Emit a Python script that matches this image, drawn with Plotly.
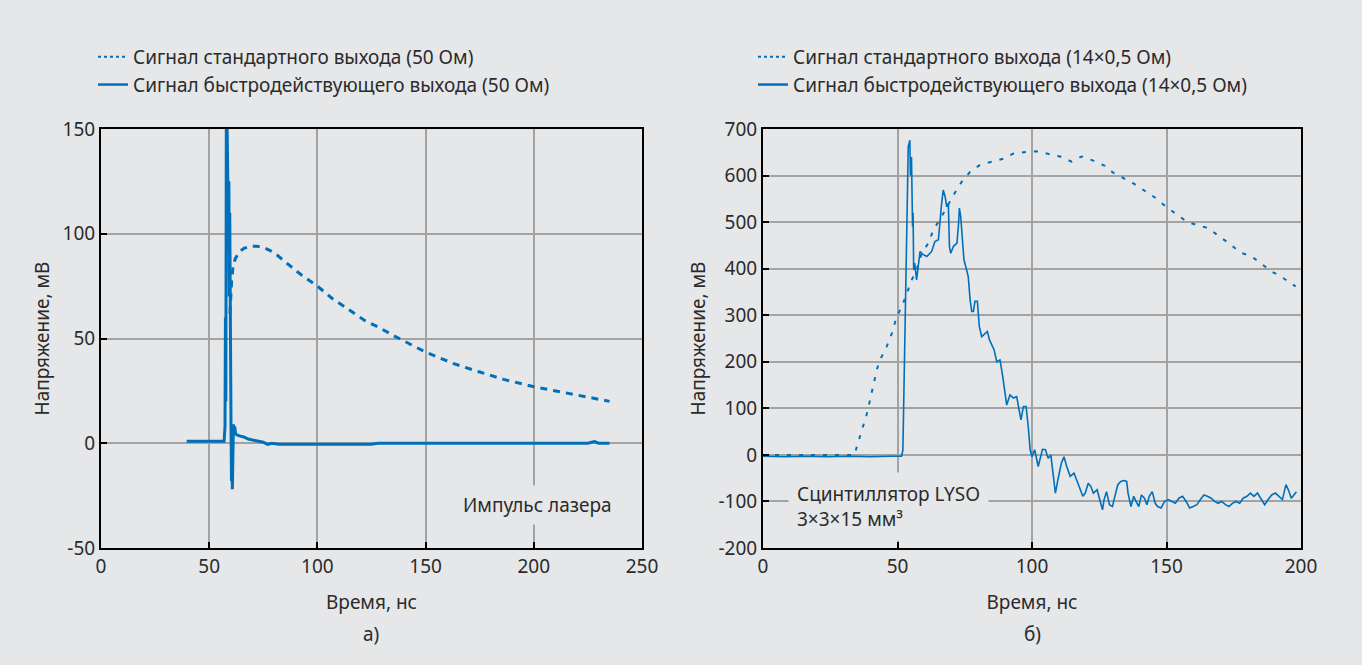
import plotly.graph_objects as go

# ---------------- data: panel a) ----------------
std_a_t = [59.6, 60.0, 60.4, 61, 62, 64, 66, 69, 72, 75, 80, 87, 93, 100, 107, 113.5, 122, 129,
           135, 150, 163, 175, 186, 200, 212, 224, 235]
std_a_v = [62, 72, 78, 84, 88, 91.5, 93, 94, 94, 93.5, 91, 85, 80, 75, 69, 64.5, 58.5, 55,
           51.5, 43.5, 38, 34, 30.5, 27, 24.5, 22, 20]

fast_a_t = [39.6, 45, 50, 56.9, 57.3, 57.5, 57.7, 57.9, 58.1, 58.3, 58.5, 58.7, 58.9, 59.1, 59.3,
            59.5, 59.7, 59.9, 60.1, 60.3, 60.5, 60.7, 60.9, 61.2, 61.5, 61.8, 62.2, 62.8, 64, 66,
            68, 70, 72, 75, 77, 79, 82, 90, 100, 110, 120, 125, 128, 150, 175, 200, 225, 228,
            230, 235]
fast_a_v = [1, 1, 1, 1, 8, 60, 20, 150, 95, 150, 118, 138, 100, 125, 70,
            110, 40, 60, 5, -18, -8, -22, -5, 9, 5, 8, 4.5, 4, 3.5, 3,
            2, 1.5, 1, 0.5, -0.5, 0, -0.5, -0.5, -0.5, -0.5, -0.5, -0.5, 0, 0, 0, 0, 0, 0.8,
            0, 0]

# ---------------- data: panel б) ----------------
std_b_t = [0, 10, 20, 30, 34, 35, 36, 37.3, 38.5, 39.8, 40.8, 42.3, 43.5, 46, 47.9, 49.7, 51.6,
           53.4, 55.3, 57.1, 59, 61.5, 63.3, 66.4, 70.8, 73.9, 77, 80.7, 85.6, 89.3, 93, 98,
           101.7, 106.7, 110.4, 114.7, 118.5, 122.8, 127.1, 130.2, 134, 137.7, 141.4, 145.7,
           149.4, 153.2, 157.5, 161.2, 165.6, 169.9, 173.6, 177.3, 181.7, 185.4, 189.1, 192.8,
           197.2, 198]
std_b_v = [0, 0, 0, 0, 0, 20, 40, 61, 86, 118, 147, 183, 204, 233, 261, 297, 318,
           347, 376, 397, 433, 455, 483, 512, 558, 587, 608, 623, 630, 636, 647, 651,
           652, 646, 641, 630, 641, 632, 621, 606, 594, 583, 569, 553,
           535, 519, 501, 494, 487, 468, 453, 435, 426, 410, 394, 382,
           365, 362]

fast_b_t = [0, 8, 16, 24, 32, 40, 48, 51.5, 52.0, 52.3, 52.8, 53.2, 54.0, 54.6, 54.8, 55.2, 55.6,
            55.8, 56.0, 56.4, 57.1, 57.7, 58.4, 59.6, 60.9, 62.7, 63.9, 65.2, 65.8, 66.4, 67.0,
            67.7, 68.3, 68.9, 69.3, 69.8, 70.8, 72.1, 72.7, 73.0, 73.5, 74.2, 74.7, 75.7, 76.3,
            77.0, 77.6, 78.2, 78.8, 79.7, 80.4, 81.3, 82.6, 83.4, 84.2, 85.0, 85.9, 86.9, 88.1,
            89.1, 90.0, 90.6, 91.8, 93.1, 94.3, 95.3, 95.9, 96.8, 97.8, 98.6, 99.3, 100,
            101, 102.3, 103, 103.9, 105, 106, 107, 107.9, 108.7, 109.6, 110.9, 111.9, 112.9,
            114.2, 115.6, 116.6, 117.5, 118.9, 119.8, 120.9, 121.9, 122.8, 124.2, 125.1, 126.2,
            126.8, 127.7, 128.8, 129.9, 130.8, 131.9, 133, 134.1, 135.2, 135.7, 136.8, 137.8,
            138.7, 139.7, 140.7, 141.8, 142.7, 143.6, 144.7, 145.8, 146.7, 148, 149.3, 150.7,
            152, 153.3, 154.6, 156, 157.3, 158.6, 159.9, 161.3, 162.6, 163.9, 165.2, 166.6,
            167.9, 169.2, 170.5, 171.9, 173.2, 174.5, 175.8, 177.2, 178.5, 179.9, 181.2, 182.5,
            183.8, 185.2, 186.5, 187.8, 189.1, 190.5, 191.7, 193.1, 194.4, 195.3, 196.4, 197.4,
            198.3]
fast_b_v = [-3, -4, -3, -4, -3, -4, -3, -3, 10, 100, 280, 344, 662, 676, 600, 640, 490,
            520, 397, 412, 376, 405, 437, 430, 426, 437, 458, 462, 512, 540, 569,
            555, 533, 540, 448, 433, 448, 455, 497, 530, 512, 455, 419, 397, 383,
            333, 308, 308, 330, 330, 276, 254, 262, 265, 247, 237, 226, 200, 204,
            169, 125, 107, 129, 122, 125, 97, 75, 104, 104, 61, 11, -4,
            11, -25, -11, 12, 11, -7, 0, -39, -82, -54, -18, -4, -25,
            -46, -39, -54, -68, -89, -82, -61, -68, -82, -75, -96, -118,
            -96, -79, -107, -111, -89, -64, -57, -55, -57, -82, -111, -89,
            -100, -111, -86, -93, -107, -89, -79, -104, -111, -114, -100, -96,
            -100, -104, -93, -89, -100, -114, -111, -107, -96, -86, -89, -93,
            -100, -104, -100, -107, -111, -104, -100, -104, -93, -89, -82, -89,
            -82, -96, -107, -96, -86, -82, -89, -96, -64, -75, -93, -86,
            -79]

# tick labels
xa_ticks = [0, 50, 100, 150, 200, 250]
ya_ticks = [-50, 0, 50, 100, 150]
ya_text = ["-50", "0", "50", "100", "150"]
xb_ticks = [0, 50, 100, 150, 200]
yb_ticks = [-200, -100, 0, 100, 200, 300, 400, 500, 600, 700]
yb_text = ["-200", "-100", "0", "100", "200", "300", "400", "500", "600", "700"]

name_std_a = "Сигнал стандартного выхода (50 Ом)"
name_fast_a = "Сигнал быстродействующего выхода (50 Ом)"
name_std_b = "Сигнал стандартного выхода (14×0,5 Ом)"
name_fast_b = "Сигнал быстродействующего выхода (14×0,5 Ом)"

BLUE = "#0070bb"
BG = "#e6e7e9"
TXT = "#2b2b2b"
GRID = "#a3a3a3"
FONT = "Noto Sans"
FS = 19
W, H = 1362, 665

fig = go.Figure()

# real traces
fig.add_trace(go.Scatter(x=std_a_t, y=std_a_v, mode="lines", xaxis="x", yaxis="y",
                         line=dict(color=BLUE, width=3, dash="7px,6px"), showlegend=False))
fig.add_trace(go.Scatter(x=fast_a_t, y=fast_a_v, mode="lines", xaxis="x", yaxis="y",
                         line=dict(color=BLUE, width=3), showlegend=False))
fig.add_trace(go.Scatter(x=std_b_t, y=std_b_v, mode="lines", xaxis="x2", yaxis="y2",
                         line=dict(color=BLUE, width=2, dash="4px,8px"), showlegend=False))
fig.add_trace(go.Scatter(x=fast_b_t, y=fast_b_v, mode="lines", xaxis="x2", yaxis="y2",
                         line=dict(color=BLUE, width=1.6), showlegend=False))

# legend-only entries
for nm, dash, lg, grp in [(name_std_a, "dot", "legend", "a1"), (name_fast_a, "solid", "legend", "a2"),
                          (name_std_b, "dot", "legend2", "b1"), (name_fast_b, "solid", "legend2", "b2")]:
    fig.add_trace(go.Scatter(x=[None], y=[None], mode="lines", name=nm, legend=lg, legendgroup=grp,
                             xaxis="x" if lg == "legend" else "x2",
                             yaxis="y" if lg == "legend" else "y2",
                             line=dict(color=BLUE, width=2 if dash == "dot" else 2.5, dash=dash)))

yd = [1 - 548 / H, 1 - 129 / H]
axis_common = dict(showline=True, linecolor="black", linewidth=2, mirror=True,
                   ticks="inside", ticklen=6, tickwidth=2, tickcolor="black",
                   showgrid=True, gridcolor=GRID, gridwidth=1.5, zeroline=False,
                   automargin=False,
                   tickfont=dict(family=FONT, size=FS, color=TXT))
title_font = dict(family=FONT, size=FS, color=TXT)

fig.update_layout(
    width=W, height=H,
    margin=dict(l=0, r=0, t=0, b=0),
    paper_bgcolor=BG, plot_bgcolor=BG,
    font=dict(family=FONT, size=FS, color=TXT),
    xaxis=dict(domain=[101 / W, 642 / W], range=[0, 250], tickvals=xa_ticks,
               title=dict(text="Время, нс", standoff=18, font=title_font), anchor="y", **axis_common),
    yaxis=dict(domain=yd, range=[-50, 150], tickvals=ya_ticks, ticktext=ya_text,
               title=dict(text="Напряжение, мВ", standoff=8, font=title_font), anchor="x", **axis_common),
    xaxis2=dict(domain=[763 / W, 1301 / W], range=[0, 200], tickvals=xb_ticks,
                title=dict(text="Время, нс", standoff=18, font=title_font), anchor="y2", **axis_common),
    yaxis2=dict(domain=yd, range=[-200, 700], tickvals=yb_ticks, ticktext=yb_text,
                title=dict(text="Напряжение, мВ", standoff=8, font=title_font), anchor="x2", **axis_common),
    legend=dict(x=93 / W, y=1 - 38 / H, xanchor="left", yanchor="top", bgcolor="rgba(0,0,0,0)",
                font=dict(family=FONT, size=FS, color=TXT), tracegroupgap=0, itemwidth=30),
    legend2=dict(x=753 / W, y=1 - 38 / H, xanchor="left", yanchor="top", bgcolor="rgba(0,0,0,0)",
                 font=dict(family=FONT, size=FS, color=TXT), tracegroupgap=0, itemwidth=30),
    annotations=[
        dict(text="Импульс лазера", x=201.5, y=-29.6, xref="x", yref="y", showarrow=False,
             bgcolor=BG, borderpad=6, font=dict(family=FONT, size=FS, color=TXT)),
        dict(text="Сцинтиллятор LYSO<br>3×3×15 мм³", x=46.5, y=-110, xref="x2", yref="y2",
             showarrow=False, align="left", bgcolor=BG, borderpad=8,
             font=dict(family=FONT, size=FS, color=TXT)),
        dict(text="а)", x=371 / W, y=1 - 634 / H, xref="paper", yref="paper", showarrow=False,
             xanchor="center", yanchor="middle", font=dict(family=FONT, size=FS, color=TXT)),
        dict(text="б)", x=1032 / W, y=1 - 634 / H, xref="paper", yref="paper", showarrow=False,
             xanchor="center", yanchor="middle", font=dict(family=FONT, size=FS, color=TXT)),
    ],
)

fig.write_html("out.html")
